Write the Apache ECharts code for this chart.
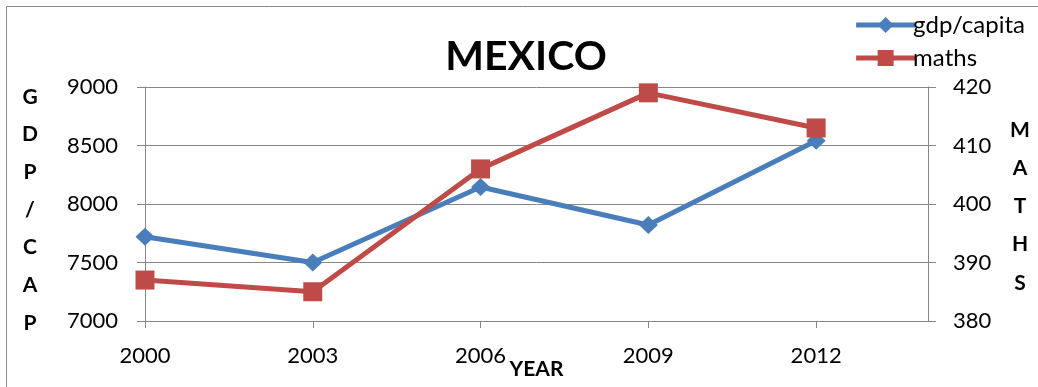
<!DOCTYPE html>
<html>
<head>
<meta charset="utf-8">
<script src="https://cdn.jsdelivr.net/npm/echarts@6/dist/echarts.min.js"></script>
<style>
  html, body { margin: 0; padding: 0; background: #fff; }
  #chart { width: 1038px; height: 387px; }
</style>
</head>
<body>
<div id="chart"></div>
<script>
const years = [2000, 2003, 2006, 2009, 2012];
const gdpPerCapita = [7720, 7500, 8145, 7820, 8540];
const mathsScores = [387, 385, 406, 419, 413];
const xTicks = [2000, 2003, 2006, 2009, 2012];
const leftTitle = ["G", "D", "P", "/", "C", "A", "P"];
const rightTitle = ["M", "A", "T", "H", "S"];

const font = "Lato, 'Open Sans', sans-serif";
const gray = "#868686";

function pairs(xs, ys) {
  return xs.map((x, i) => [x, ys[i]]);
}

// stacked letters used as the y axis titles
function letterColumn(letters, x, y, lineHeight) {
  return {
    type: "text",
    x: x,
    y: y,
    silent: true,
    style: {
      text: letters.join("\n"),
      fontFamily: font,
      fontWeight: "bold",
      fontSize: 21,
      lineHeight: lineHeight,
      fill: "#000",
      align: "center",
      verticalAlign: "middle",
    },
  };
}

const chart = echarts.init(document.getElementById("chart"));

chart.setOption({
  animation: false,
  backgroundColor: "#fff",
  textStyle: { fontFamily: font },
  title: {
    text: "MEXICO",
    left: 521,
    top: 31,
    textAlign: "center",
    textStyle: { fontFamily: font, fontWeight: "bold", fontSize: 41, color: "#000" },
  },
  legend: {
    orient: "vertical",
    right: 8,
    top: 8,
    itemWidth: 59,
    itemHeight: 20,
    itemGap: 9,
    lineStyle: { width: 5 },
    textStyle: { fontFamily: font, fontSize: 24, color: "#000", padding: [0, 0, 0, -7] },
    data: ["gdp/capita", "maths"],
  },
  grid: { left: 145, right: 110, top: 87, bottom: 66, containLabel: false, outerBoundsMode: "none" },
  xAxis: {
    type: "value",
    min: 2000,
    max: 2014,
    interval: 3,
    name: "YEAR",
    nameLocation: "middle",
    nameGap: 38,
    nameMoveOverlap: false,
    nameTextStyle: { fontFamily: font, fontWeight: "bold", fontSize: 21, color: "#000" },
    axisLine: { show: true, lineStyle: { color: gray, width: 1 } },
    axisTick: { show: true, length: 7, customValues: xTicks, lineStyle: { color: gray } },
    axisLabel: {
      customValues: xTicks,
      formatter: (v) => String(v),
      fontSize: 22,
      color: "#000",
      margin: 24,
      fontFamily: font,
    },
    splitLine: { show: false },
  },
  yAxis: [
    {
      type: "value",
      min: 7000,
      max: 9000,
      interval: 500,
      position: "left",
      axisLine: { show: true, lineStyle: { color: gray } },
      axisTick: { show: true, length: 8, lineStyle: { color: gray } },
      axisLabel: { formatter: (v) => String(v), fontSize: 22, color: "#000", margin: 27, fontFamily: font },
      splitLine: { show: true, lineStyle: { color: gray, width: 1 } },
    },
    {
      type: "value",
      min: 380,
      max: 420,
      interval: 10,
      position: "right",
      axisLine: { show: true, lineStyle: { color: gray } },
      axisTick: { show: true, length: 8, lineStyle: { color: gray } },
      axisLabel: { formatter: (v) => String(v), fontSize: 22, color: "#000", margin: 25, fontFamily: font },
      splitLine: { show: false },
    },
  ],
  graphic: [
    {
      type: "rect",
      shape: { x: 6.5, y: 6.5, width: 1040, height: 400 },
      style: { fill: "none", stroke: "#8c8c8c", lineWidth: 1 },
      silent: true,
      z: -1,
    },
    letterColumn(leftTitle, 30, 210, 37.7),
    letterColumn(rightTitle, 1020, 206.5, 38.2),
  ],
  series: [
    {
      name: "gdp/capita",
      type: "line",
      yAxisIndex: 0,
      data: pairs(years, gdpPerCapita),
      symbol: "diamond",
      symbolSize: [19, 18],
      lineStyle: { color: "#4A7EBB", width: 5 },
      itemStyle: { color: "#4A7EBB" },
      z: 2,
    },
    {
      name: "maths",
      type: "line",
      yAxisIndex: 1,
      data: pairs(years, mathsScores),
      symbol: "rect",
      symbolSize: 19,
      lineStyle: { color: "#BE4B48", width: 5 },
      itemStyle: { color: "#BE4B48" },
      z: 3,
    },
  ],
});
</script>
</body>
</html>
